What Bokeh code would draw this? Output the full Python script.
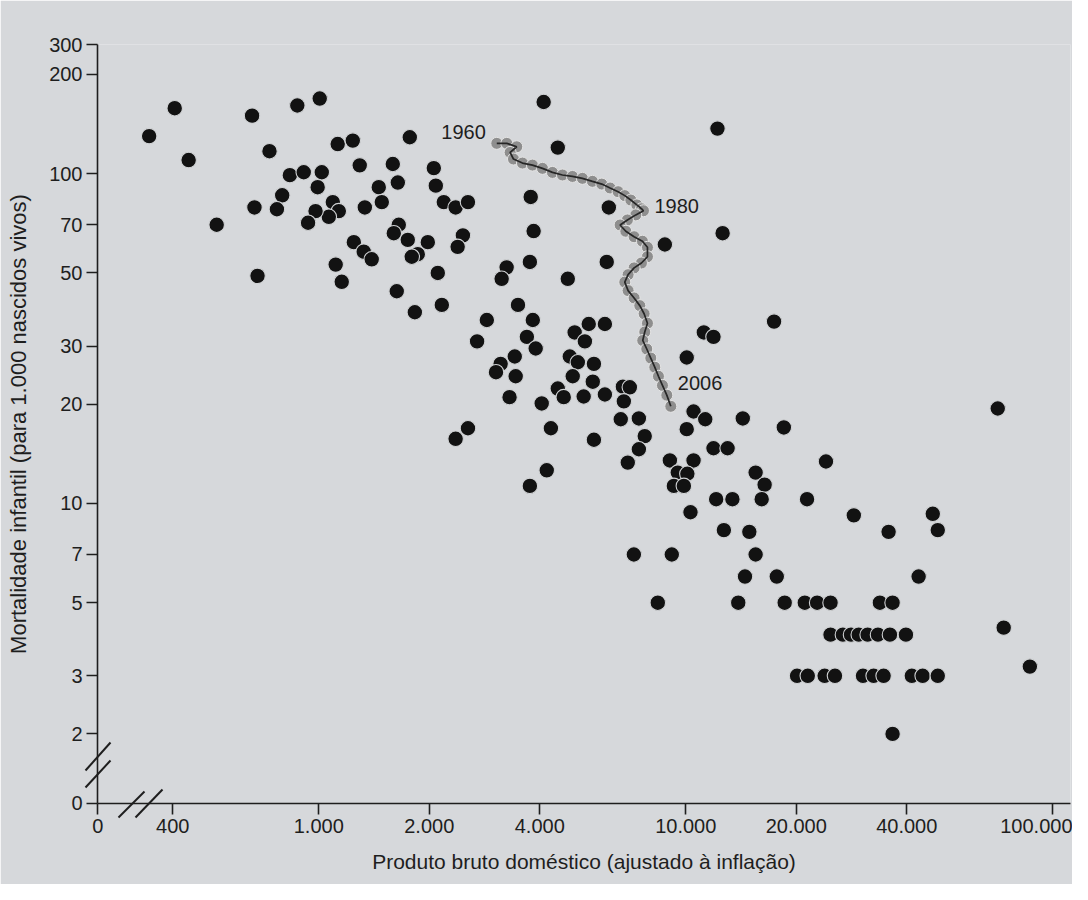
import math
from bokeh.plotting import figure
from bokeh.models import FixedTicker, Range1d, Label
from bokeh.embed import file_html
from bokeh.resources import INLINE

# ---- data: countries (GDP, infant mortality per 1,000 live births) ----
gdp = [405, 345, 442, 658, 874, 1006, 734, 1126, 1238, 1770, 1293, 1591, 2058, 834, 910, 1019,
       993, 1457, 1642, 2084, 2191, 795, 769, 668, 1092, 1134, 1065, 980, 935, 1335, 1485, 527,
       1652, 1601, 1748, 1861, 1792, 1982, 1246, 1326, 1394, 1112, 1155, 681, 1631, 2110, 2164, 1827,
       4100, 12200, 4480, 2360, 2550, 3780, 6170, 2470, 2390, 3850, 8770, 12600, 6090, 3760, 3250,
       3150, 4770, 3490, 2870, 3830, 5440, 6020, 4980, 11200, 11900, 3690, 2700,
       3900, 5310, 10060, 3130, 3040, 3420, 3440, 3310, 4830, 5080, 5620, 4920, 5580, 4480, 4650,
       5270, 6020, 6740, 7040, 6780, 4050, 6650, 7450, 7730, 7450, 6950, 5620, 4290, 2550, 2360,
       4180, 3760, 10500, 11300, 10060, 11900, 13000, 9050, 10500, 9510, 10100, 9280, 9880, 12100,
       13400, 10300, 12700, 7220, 9160, 14300,
       17400, 18500, 15500, 16400, 24100, 16100, 21400, 28700, 47100, 48600, 14900, 35700, 15500,
       14500, 17700, 43100, 8390, 13900, 18600, 21100, 22800, 24800, 33800, 36600,
       24800, 26800, 28200, 29600, 31300, 33400, 36000, 39800,
       20100, 21500, 23900, 25500, 30400, 32500, 34600, 41300, 44200, 48600,
       36600, 70800, 73500, 86600]
mortality = [158, 130, 110, 150, 161, 169, 117, 123, 126, 129, 106, 107, 104, 99, 101, 101,
             91, 91, 94, 92, 82, 86, 78, 79, 82, 77, 74, 77, 71, 79, 82, 70,
             70, 66, 63, 57, 56, 62, 62, 58, 55, 53, 47, 49, 44, 50, 40, 38,
             165, 137, 120, 79, 82, 85, 79, 65, 60, 67, 61, 66, 54, 54, 52,
             48, 48, 40, 36, 36, 35, 35, 33, 33, 32, 32, 31,
             29.5, 31, 27.7, 26.5, 25, 27.9, 24.3, 21, 27.9, 26.8, 26.5, 24.3, 23.4, 22.3, 21,
             21.1, 21.4, 22.6, 22.5, 20.4, 20.1, 18, 18.1, 16, 14.6, 13.3, 15.6, 16.9, 16.9, 15.7,
             12.6, 11.3, 19, 18, 16.8, 14.7, 14.7, 13.5, 13.5, 12.4, 12.3, 11.3, 11.3, 10.3,
             10.3, 9.4, 8.3, 7, 7, 18.1,
             35.6, 17, 12.4, 11.4, 13.4, 10.3, 10.3, 9.2, 9.3, 8.3, 8.2, 8.2, 7,
             6, 6, 6, 5, 5, 5, 5, 5, 5, 5, 5,
             4, 4, 4, 4, 4, 4, 4, 4,
             3, 3, 3, 3, 3, 3, 3, 3, 3, 3,
             2, 19.4, 4.2, 3.2]

# ---- data: one country's path, 1960-2006 ----
traj_years = list(range(1960, 2007))
traj_gdp = [3055, 3253, 3463, 3322, 3392, 3589, 3821, 4070, 4332, 4613, 4911, 5228, 5568, 5905,
            6219, 6540, 6820, 7083, 7355, 7573, 7669, 7308, 6935, 6623, 6864, 7231, 7620, 7863,
            7863, 7573, 7231, 6964, 6820, 6964, 7231, 7494, 7700, 7863, 7731, 7634, 7829, 8028,
            8232, 8424, 8640, 8877, 9103]
traj_mort = [123.6, 123.6, 120.7, 116, 110.8, 107.7, 106.2, 103.8, 100.9, 99.1, 98.1, 96.8, 94.8,
             93.0, 90.5, 88.2, 85.8, 83.2, 80.4, 78.3, 77.2, 75.0, 72.4, 69.9, 66.9, 64.4, 62.4,
             59.8, 56.0, 53.6, 51.8, 49.4, 46.9, 44.2, 42.0, 39.8, 37.6, 35.2, 33.1, 31.2, 29.4,
             27.6, 25.9, 24.3, 22.8, 21.3, 19.7]
labelled_years = [1960, 1980, 2006]

# ---- axes ----
x_ticks = [250, 400, 1000, 2000, 4000, 10000, 20000, 40000, 100000]
x_tick_labels = ["0", "400", "1.000", "2.000", "4.000", "10.000", "20.000", "40.000", "100.000"]
y_ticks = [1.232, 2, 3, 5, 7, 10, 20, 30, 50, 70, 100, 200, 246]
y_tick_labels = ["0", "2", "3", "5", "7", "10", "20", "30", "50", "70", "100", "200", "300"]
x_title = "Produto bruto doméstico (ajustado à inflação)"
y_title = "Mortalidade infantil (para 1.000 nascidos vivos)"

BG = "#d6d8db"
INK = "#1e1e1e"
FONT = "Liberation Sans"

W, H = 1072, 884
LEFT, RIGHT, TOP, BOTTOM = 97, 2, 44, 81
FW, FH = W - LEFT - RIGHT, H - TOP - BOTTOM
X0, Y0, Y1 = 249.5, 1.23, 246.5
X1 = 10 ** (math.log10(X0) + FW / 367.0)

p = figure(width=W, height=H, x_axis_type="log", y_axis_type="log",
           x_range=Range1d(X0, X1), y_range=Range1d(Y0, Y1),
           output_backend="svg", toolbar_location=None,
           min_border_left=LEFT, min_border_right=RIGHT, min_border_top=TOP,
           min_border_bottom=BOTTOM)
p.background_fill_color = BG
p.border_fill_color = BG
p.outline_line_color = None
p.grid.visible = False

for ax, ticks, labels, title in ((p.xaxis[0], x_ticks, x_tick_labels, x_title),
                                 (p.yaxis[0], y_ticks, y_tick_labels, y_title)):
    ax.ticker = FixedTicker(ticks=ticks, minor_ticks=[])
    ax.major_label_overrides = {t: l for t, l in zip(ticks, labels)}
    ax.axis_line_color = INK
    ax.axis_line_width = 1.6
    ax.major_tick_line_color = INK
    ax.major_tick_line_width = 1.6
    ax.major_tick_out = 11
    ax.major_tick_in = 0
    ax.minor_tick_out = 0
    ax.minor_tick_in = 0
    ax.major_label_text_font = FONT
    ax.major_label_text_font_size = "20px"
    ax.major_label_text_color = INK
    ax.axis_label = title
    ax.axis_label_text_font = FONT
    ax.axis_label_text_font_style = "normal"
    ax.axis_label_text_color = INK
p.xaxis.major_label_standoff = 4
p.yaxis.major_label_standoff = 4
p.xaxis.axis_label_text_font_size = "21px"
p.yaxis.axis_label_text_font_size = "22px"
p.xaxis.axis_label_standoff = 14
p.yaxis.axis_label_standoff = 15

# countries
p.scatter(gdp, mortality, size=15.5, fill_color="#121212", line_color="#d0d2d4", line_width=1.1)

# path of one country
p.scatter(traj_gdp, traj_mort, size=12, fill_color="#8e8e8e", line_color="#e4e4e4", line_width=1)
p.line(traj_gdp, traj_mort, line_color="#262626", line_width=1.7)

offsets = {1960: (-11, 11, "right"), 1980: (11, 5, "left"), 2006: (7, 23, "left")}
for yr in labelled_years:
    i = traj_years.index(yr)
    dx, dy, al = offsets[yr]
    p.add_layout(Label(x=traj_gdp[i], y=traj_mort[i], text=str(yr), x_offset=dx, y_offset=dy,
                       text_align=al, text_baseline="middle", text_font=FONT,
                       text_font_size="20px", text_color=INK))

# axis-break marks: pixel offsets from the origin corner, drawn on the overlay level
def at(dx, dy):
    lx = math.log10(X1 / X0)
    ly = math.log10(Y1 / Y0)
    return (10 ** (math.log10(X0) + dx * lx / FW), 10 ** (math.log10(Y0) + dy * ly / FH))

marks = (((-12, 33), (13, 61)), ((-12, 16), (13, 43)),
         ((21, -14), (47, 12)), ((38, -14), (65, 14)))
bx0, by0, bx1, by1 = [], [], [], []
for a, b in marks:
    pa, pb = at(*a), at(*b)
    bx0.append(pa[0]); by0.append(pa[1]); bx1.append(pb[0]); by1.append(pb[1])
p.segment(bx0, by0, bx1, by1, line_color=INK, line_width=2, level="overlay")

open("out.html", "w").write(file_html(p, INLINE))
